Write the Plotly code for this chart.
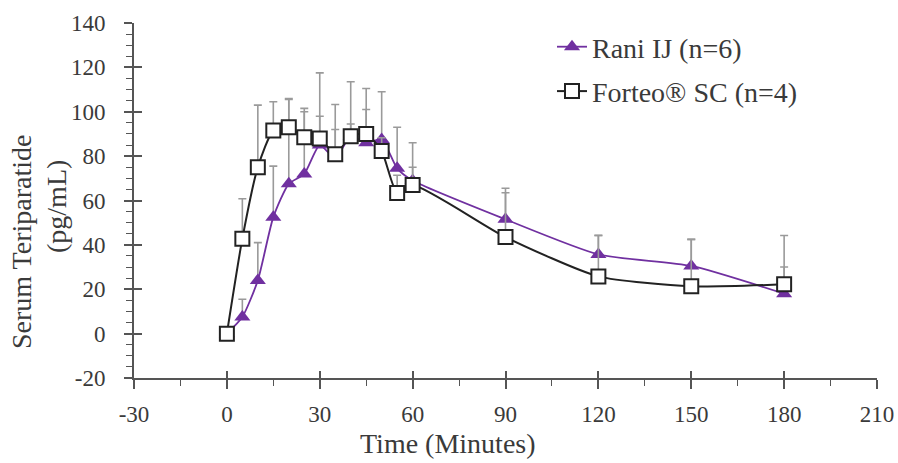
import plotly.graph_objects as go

# Sampling times (minutes after dosing)
time_min = [0, 5, 10, 15, 20, 25, 30, 35, 40, 45, 50, 55, 60, 90, 120, 150, 180]

# Rani IJ group: mean serum teriparatide (pg/mL) and upper SD
rani_mean = [0, 7.5, 24, 52.5, 67.5, 72, 85, 79, 89, 86, 87.5, 74.5, 69, 51.5, 35.7, 30.5, 18]
rani_sd = [0, 8, 17, 23, 38, 28, 13, 13, 5.5, 15, 21.5, 18.5, 6, 12, 8.5, 12, 12]

# Forteo SC group: mean serum teriparatide (pg/mL) and upper SD
forteo_mean = [0, 42.8, 75, 91.5, 93, 88.5, 88, 80.8, 89, 90, 82.3, 63.4, 67, 43.5, 25.8, 21.3, 22.2]
forteo_sd = [0, 18, 28, 13, 13, 13, 29.5, 22.5, 24.5, 20.5, 6, 8, 19, 22, 18.5, 21.2, 22]

x_ticks = [-30, 0, 30, 60, 90, 120, 150, 180, 210]
x_tick_text = ["-30", "0", "30", "60", "90", "120", "150", "180", "210"]
y_ticks = [-20, 0, 20, 40, 60, 80, 100, 120, 140]
y_tick_text = ["-20", "0", "20", "40", "60", "80", "100", "120", "140"]

FONT = "Liberation Serif"
TEXT = "#3a3a3a"
AXIS = "#555555"
PURPLE = "#7030A0"
ERR = "#9a9a9a"
TICK_SIZE = 23
TITLE_SIZE = 28

fig = go.Figure()

fig.add_trace(go.Scatter(
    x=time_min, y=rani_mean, name="Rani IJ (n=6)", legendgroup="rani",
    mode="lines+markers",
    line=dict(color=PURPLE, width=1.8, shape="spline", smoothing=0.6),
    marker=dict(symbol="triangle-up", size=14, color=PURPLE),
    error_y=dict(type="data", array=rani_sd, symmetric=False,
                 arrayminus=[0] * len(rani_sd), color=ERR, thickness=1.6, width=4),
))

fig.add_trace(go.Scatter(
    x=time_min, y=forteo_mean, name="Forteo® SC (n=4)", legendgroup="forteo",
    mode="lines+markers",
    line=dict(color="#222222", width=2, shape="spline", smoothing=0.6),
    marker=dict(symbol="square", size=14, color="white",
                line=dict(color="#222222", width=2)),
    error_y=dict(type="data", array=forteo_sd, symmetric=False,
                 arrayminus=[0] * len(forteo_sd), color=ERR, thickness=1.6, width=4),
))

# Invisible trace that carries the overlay axes used for inward tick marks
fig.add_trace(go.Scatter(x=[None], y=[None], xaxis="x2", yaxis="y2",
                         showlegend=False, hoverinfo="skip"))

x_range = [-30, 210]
y_range = [-20, 140]

W, H = 898, 463
L, R, T, B = 134, 21, 23, 85
pw, ph = W - L - R, H - T - B


def px_to_paper(px, py):
    return (px - L) / pw, 1 - (py - T) / ph


leg_x, leg_y = px_to_paper(552, 22)

fig.update_layout(
    width=W, height=H,
    margin=dict(l=L, r=R, t=T, b=B, autoexpand=False),
    paper_bgcolor="white", plot_bgcolor="white",
    font=dict(family=FONT, size=TICK_SIZE, color=TEXT),
    showlegend=True,
    legend=dict(
        x=leg_x, y=leg_y, xanchor="left", yanchor="top",
        font=dict(family=FONT, size=TITLE_SIZE, color=TEXT),
        bgcolor="rgba(0,0,0,0)", tracegroupgap=5, traceorder="grouped",
    ),
    xaxis=dict(
        range=x_range, tickvals=x_ticks, ticktext=x_tick_text,
        showgrid=False, zeroline=False,
        showline=True, linecolor=AXIS, linewidth=2,
        ticks="outside", ticklen=9, tickwidth=1.6, tickcolor=AXIS,
        minor=dict(dtick=15, tick0=0, ticks="outside", ticklen=6, tickwidth=1.4, tickcolor=AXIS),
        tickfont=dict(family=FONT, size=TICK_SIZE, color=TEXT),
        ticklabelstandoff=5,
    ),
    yaxis=dict(
        range=y_range, tickvals=y_ticks, ticktext=y_tick_text,
        showgrid=False, zeroline=False,
        showline=True, linecolor=AXIS, linewidth=2,
        ticks="outside", ticklen=8, tickwidth=1.6, tickcolor=AXIS,
        minor=dict(dtick=5, tick0=0, ticks="outside", ticklen=6, tickwidth=1.4, tickcolor=AXIS),
        tickfont=dict(family=FONT, size=TICK_SIZE, color=TEXT),
        ticklabelstandoff=14,
    ),
    xaxis2=dict(
        range=x_range, tickvals=x_ticks, overlaying="x", anchor="y2", side="bottom",
        showgrid=False, zeroline=False, showline=False, showticklabels=False,
        ticks="inside", ticklen=7, tickwidth=1.6, tickcolor=AXIS,
    ),
    yaxis2=dict(
        range=y_range, tickvals=y_ticks, overlaying="y", anchor="x2", side="left",
        showgrid=False, zeroline=False, showline=False, showticklabels=False,
        ticks="inside", ticklen=8, tickwidth=1.6, tickcolor=AXIS,
    ),
)

titles = [
    ("Time (Minutes)", 0, (448, 443)),
    ("Serum Teriparatide", -90, (22, 242)),
    ("(pg/mL)", -90, (56, 207)),
]
for text, angle, (px, py) in titles:
    ax, ay = px_to_paper(px, py)
    fig.add_annotation(text=text, x=ax, y=ay, xref="paper", yref="paper",
                       xanchor="center", yanchor="middle", showarrow=False,
                       textangle=angle,
                       font=dict(family=FONT, size=TITLE_SIZE, color=TEXT))

fig.write_html("out.html")
